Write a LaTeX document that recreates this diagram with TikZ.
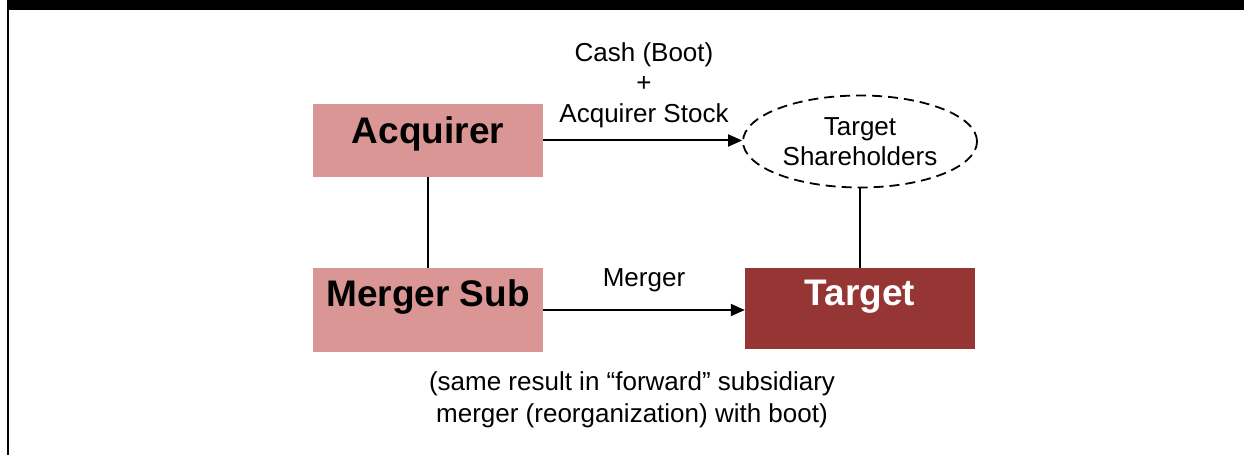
\documentclass[tikz,border=0pt]{standalone}
\usepackage{fontspec}
\setmainfont{Liberation Sans}
\usepackage{tikz}
\usetikzlibrary{arrows.meta,positioning,shapes.geometric}

\definecolor{acqpink}{HTML}{DA9694}
\definecolor{tgtred}{HTML}{963634}

\begin{document}
\begin{tikzpicture}[x=1pt,y=1pt,
  firm/.style={rectangle, inner sep=0pt, minimum width=230pt,
    text height=30pt, text depth=24pt,
    font=\fontsize{37}{40}\selectfont\bfseries},
  low/.style={text height=27pt, text depth=33pt},
  note/.style={align=center, inner sep=0pt,
    font=\fontsize{26}{30.5}\selectfont},
  flow/.style={line width=2pt, -{Triangle[length=14pt,width=12pt]}}]
\useasboundingbox (0,0) rectangle (1244,455);
\fill[black] (7,445) rectangle (1244,455);
\draw[line width=2pt] (8,445) -- (8,0);

\node[firm, fill=acqpink, minimum height=73pt] (acq) at (428,314.5) {Acquirer};
\node[firm, low, fill=acqpink, minimum height=84pt] (sub) at (428,145) {Merger Sub};
\node[firm, low, fill=tgtred, text=white, minimum height=81pt] (tgt) at (860,146.5) {Target};
\node[ellipse, draw, dashed, dash pattern=on 10pt off 6pt, line width=1.8pt,
  minimum width=234pt, minimum height=92pt, inner sep=0pt,
  align=center, font=\fontsize{26}{30}\selectfont] (shr) at (860,313.5)
  {Target\\Shareholders};

\node[note] (cash) at (644,370) {Cash (Boot)\\+\\Acquirer Stock};
\node[note] (mrg) at (644,175) {Merger};
\node[note, font=\fontsize{26}{32}\selectfont] (result) at (632,55)
  {(same result in “forward” subsidiary\\merger (reorganization) with boot)};

\draw[flow] (acq.east) -- (acq.east -| shr.west);
\draw[flow] (sub.east) -- (sub.east -| tgt.west);
\draw[line width=2pt] (acq.south) -- (sub.north);
\draw[line width=2pt] (shr.south) -- (tgt.north);
\end{tikzpicture}
\end{document}
